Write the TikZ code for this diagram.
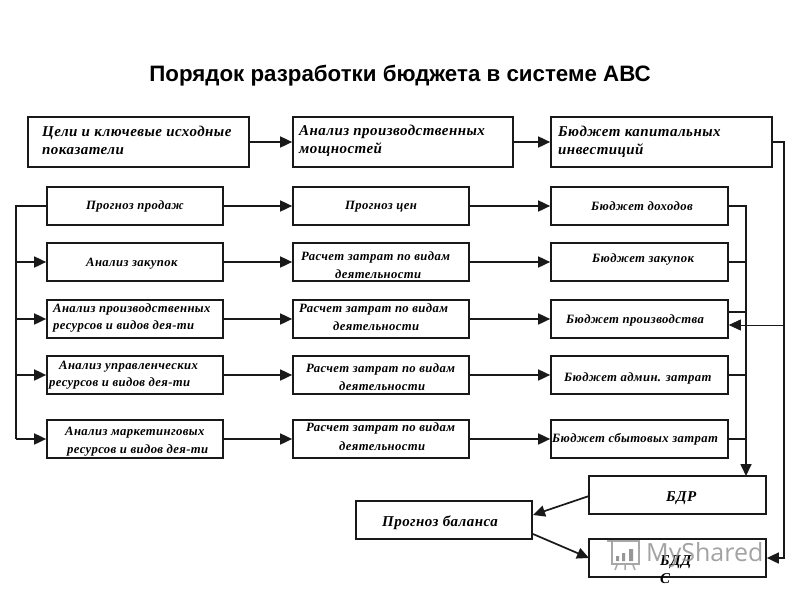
\documentclass[tikz,border=0pt]{standalone}
\usepackage{fontspec}
\setmainfont{Liberation Serif}
\newfontfamily\titlefont{Liberation Sans}
\newfontfamily\markfont{Open Sans}
\newfontfamily\lblA[LetterSpace=3]{Liberation Serif}
\usetikzlibrary{arrows.meta}
\tikzset{
  x=1pt,y=-1pt,
  box/.style={draw=black!90,line width=1.7pt,fill=white,minimum width=0pt,minimum height=0pt,inner sep=0pt},
  big/.style={anchor=west,inner sep=0pt,yshift=-1pt,font=\fontsize{15}{15}\selectfont\lblA\bfseries\itshape},
  small/.style={anchor=west,inner sep=0pt,yshift=-1.5pt,font=\fontsize{12.7}{13}\selectfont\lblA\bfseries\itshape},
  conn/.style={line width=1.7pt,draw=black!90},
  arr/.style={conn,-{Triangle[length=12pt,width=11pt]}},
  thinarr/.style={line width=0.8pt,draw=black!90,-{Triangle[length=12pt,width=11pt]}},
}
\newcommand{\bx}[5]{\node[box,minimum width=#4-#2,minimum height=#5-#3] (#1) at ({(#2+#4)/2},{(#3+#5)/2}) {};}
\begin{document}
\begin{tikzpicture}
\useasboundingbox (0,0) rectangle (800,600);
\fill[white] (0,0) rectangle (800,600);
\node[inner sep=0pt,font=\fontsize{22.3}{23}\selectfont\titlefont\bfseries] (title) at (400,76) {Порядок разработки бюджета в системе АВС};
% boxes
\bx{t1}{28}{117}{249}{167}
\bx{t2}{293}{117}{513}{167}
\bx{t3}{551}{117}{772}{167}
\bx{a1}{47}{187}{223}{225}
\bx{b1}{293}{187}{469}{225}
\bx{c1}{551}{187}{728}{225}
\bx{a2}{47}{243}{223}{281}
\bx{b2}{293}{243}{469}{281}
\bx{c2}{551}{243}{728}{281}
\bx{a3}{47}{300}{223}{338}
\bx{b3}{293}{300}{469}{338}
\bx{c3}{551}{300}{728}{338}
\bx{a4}{47}{356}{223}{394}
\bx{b4}{293}{356}{469}{394}
\bx{c4}{551}{356}{728}{394}
\bx{a5}{47}{420}{223}{458}
\bx{b5}{293}{420}{469}{458}
\bx{c5}{551}{420}{728}{458}
\bx{bdr}{589}{476}{766}{514}
\bx{bal}{356}{501}{532}{539}
\bx{bdds}{589}{539}{766}{577}
% texts
\node[big] (x1) at (42,132) {Цели и ключевые исходные};
\node[big] (x2) at (42,150) {показатели};
\node[big] (x3) at (299,130.5) {Анализ производственных};
\node[big] (x4) at (299,149) {мощностей};
\node[big] (x5) at (558,130.5) {Бюджет капитальных};
\node[big] (x6) at (558,149.5) {инвестиций};
\node[small] (y1) at (86,205) {Прогноз продаж};
\node[small] (y2) at (345,205) {Прогноз цен};
\node[small] (y3) at (591,205) {Бюджет доходов};
\node[small] (y4) at (86,262) {Анализ закупок};
\node[small] (y5) at (301,256) {Расчет затрат по видам};
\node[small] (y6) at (335,273) {деятельности};
\node[small] (y7) at (592,258) {Бюджет закупок};
\node[small] (y8) at (53,308) {Анализ производственных};
\node[small] (y9) at (53,325) {ресурсов и видов дея-ти};
\node[small] (y10) at (299,308) {Расчет затрат по видам};
\node[small] (y11) at (333,325) {деятельности};
\node[small] (y12) at (566,319) {Бюджет производства};
\node[small] (y13) at (59,365) {Анализ управленческих};
\node[small] (y14) at (49,382) {ресурсов и видов дея-ти};
\node[small] (y15) at (306,368) {Расчет затрат по видам};
\node[small] (y16) at (339,385) {деятельности};
\node[small] (y17) at (564,377) {Бюджет админ. затрат};
\node[small] (y18) at (65,431) {Анализ маркетинговых};
\node[small] (y19) at (67,449) {ресурсов и видов дея-ти};
\node[small] (y20) at (306,427) {Расчет затрат по видам};
\node[small] (y21) at (339,445) {деятельности};
\node[small] (y22) at (552,438) {Бюджет сбытовых затрат};
\node[big] (z1) at (666,497) {БДР};
\node[big] (z2) at (382,522) {Прогноз баланса};
\node[big] (z3) at (660,561) {БДД};
\node[big] (z4) at (660,578) {С};
% top/row arrows
\draw[arr] (t1.east) -- (t2.west);
\draw[arr] (t2.east) -- (t3.west);
\foreach \i in {1,...,5}{
  \draw[arr] (a\i.east) -- (b\i.west);
  \draw[arr] (b\i.east) -- (c\i.west);
}
% left bus
\coordinate (busL) at (16,439);
\draw[conn] (a1.west) -| (busL);
\draw[arr] (a2.west -| busL) -- (a2.west);
\draw[arr] (a3.west -| busL) -- (a3.west);
\draw[arr] (a4.west -| busL) -- (a4.west);
\draw[arr] (busL) -- (a5.west);
% right bus to BDR
\coordinate (busR) at (746,476);
\coordinate (c3out) at (728,312);
\draw[arr] (c1.east) -| (busR);
\draw[conn] (c2.east) -- (c2.east -| busR);
\draw[conn] (c3out) -- (c3out -| busR);
\draw[conn] (c4.east) -- (c4.east -| busR);
\draw[conn] (c5.east) -- (c5.east -| busR);
% capital budget line
\coordinate (farR) at (784,558);
\coordinate (c3in) at (728.8,325);
\draw[arr] (t3.east) -| (farR) -- (bdds.east);
\draw[thinarr] (c3in -| farR) -- (c3in);
% balance
\coordinate (balIn) at (533,515);
\coordinate (balOut) at (533,534);
\coordinate (bdrOut) at (589,496);
\coordinate (bddsIn) at (589,558);
\draw[arr] (bdrOut) -- (balIn);
\draw[arr] (balOut) -- (bddsIn);
% watermark
\begin{scope}[draw=black!45,line width=1.5pt,opacity=.75]
\draw (612,541) rectangle (639,564);
\draw (607,541) -- (612,541);
\draw (617,565) -- (615,570) (625,565) -- (625,570) (633,565) -- (635,570);
\fill[black!55] (616,556) rectangle (619,561) (622,553) rectangle (625,561) (629,549) rectangle (633,561);
\end{scope}
\node[anchor=west,inner sep=0pt,text=black!45,opacity=.8,font=\fontsize{25}{26}\selectfont\markfont] (mark) at (646,555) {MyShared};
\end{tikzpicture}
\end{document}
